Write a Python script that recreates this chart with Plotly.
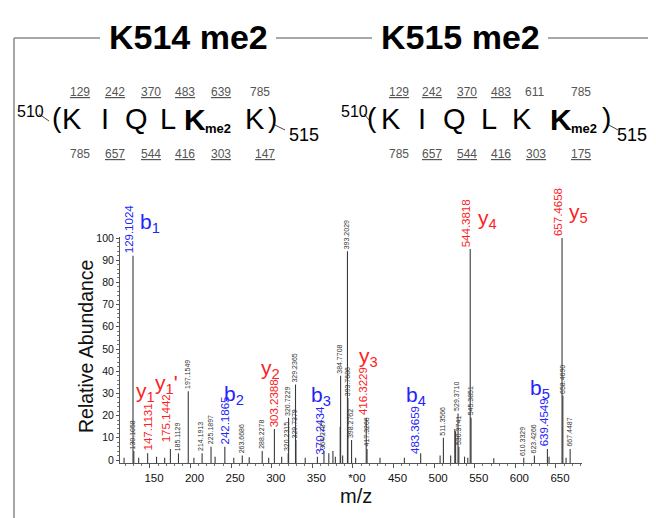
import plotly.graph_objects as go

# ---------------- data ----------------
peak_mz = [118.1, 129.1024, 130.1058, 136.1, 147.1131, 158.1, 168.1, 175.1442, 185.1129,
           197.1549, 204.1, 214.1913, 225.1897, 230.2, 242.1865, 253.2, 263.6686, 272.2,
           288.2278, 296.2, 303.2388, 312.2, 320.2315, 320.7229, 329.2365, 329.7379, 341.2,
           356.2, 364.2787, 370.2434, 375.3, 378.3, 384.2787, 384.7708, 387.3, 393.2029,
           393.7686, 398.2762, 403.3, 416.3229, 417.3266, 433.3, 463.3, 483.3659, 507.3,
           511.3566, 520.3, 525.4, 526.4, 529.3710, 530.3741, 537.4, 541.4, 544.3818,
           545.3851, 573.4, 610.3329, 623.4266, 639.4549, 641.45, 657.4658, 658.4690,
           662.4, 667.4487]
peak_int = [1.0, 92, 4, 1.0, 3, 1.5, 1.0, 5, 3,
            31, 1.0, 3, 6, 1.5, 6, 1.0, 2, 1.2,
            4, 1.0, 14, 1.5, 3, 19, 34, 9, 1.0,
            1.5, 4, 3, 4, 1.5, 15, 38, 2, 94,
            28, 9, 1.0, 19, 5, 1.0, 1.0, 3, 2,
            10, 2, 14, 13, 21, 6, 1.5, 1.0, 95,
            19, 0.8, 1, 2, 5, 1.5, 100, 29,
            1.0, 5]

# annotated fragment ions
ion_mz = [129.1024, 147.1131, 175.1442, 242.1865, 303.2388, 370.2434, 416.3229,
          483.3659, 544.3818, 639.4549, 657.4658]
ion_int = [92, 3, 5, 6, 14, 3, 19, 3, 95, 5, 100]
ion_name = ["b<sub>1</sub>", "y<sub>1</sub>", "y<sub>1</sub>'", "b<sub>2</sub>",
            "y<sub>2</sub>", "b<sub>3</sub>", "y<sub>3</sub>", "b<sub>4</sub>",
            "y<sub>4</sub>", "b<sub>5</sub>", "y<sub>5</sub>"]
ion_kind = ["b", "y", "y", "b", "y", "b", "y", "b", "y", "b", "y"]

# small peak labels
small_mz = [130.1058, 185.1129, 197.1549, 214.1913, 225.1897, 263.6686, 288.2278,
            320.2315, 320.7229, 329.2365, 329.7379, 364.2787, 384.7708, 393.2029,
            393.7686, 398.2762, 417.3266, 511.3566, 529.3710, 530.3741, 545.3851,
            610.3329, 623.4266, 658.4690, 667.4487]
small_int = [4, 3, 31, 3, 6, 2, 4, 3, 19, 34, 9, 4, 38, 94, 28, 9, 5, 10, 21, 6, 19,
             1, 2, 29, 5]

x_tick_vals = [150, 200, 250, 300, 350, 400, 450, 500, 550, 600, 650]
x_tick_text = ["150", "200", "250", "300", "350", "*00", "450", "500", "550", "600", "650"]
y_tick_vals = [0, 10, 20, 30, 40, 50, 60, 70, 80, 90, 100]

titles = ["K514 me2", "K515 me2"]
seq_left = ["K", "I", "Q", "L", "K", "K"]
seq_right = ["K", "I", "Q", "L", "K", "K"]
mod_left, mod_right = 4, 5
b_left = ["129", "242", "370", "483", "639", "785"]
b_left_u = [1, 1, 1, 1, 1, 0]
y_left = ["785", "657", "544", "416", "303", "147"]
y_left_u = [0, 1, 1, 1, 1, 1]
b_right = ["129", "242", "370", "483", "611", "785"]
b_right_u = [1, 1, 1, 1, 0, 0]
y_right = ["785", "657", "544", "416", "303", "175"]
y_right_u = [0, 1, 1, 1, 1, 1]

# ---------------- layout / styling ----------------
W, H = 656, 518
ML, MR, MT, MB = 112, 82, 229, 63
PW, PH = W - ML - MR, H - MT - MB
XR = [113.09, 682.05]
YR = [-1.35, 100.45]

def px(x):
    return (x - ML) / PW

def py(y):
    return (H - MB - y) / PH

BLUE = "rgb(35,35,250)"
RED = "rgb(250,35,35)"
GRAY = "#555555"
FONT = "Liberation Sans, Arial, sans-serif"

xs, ys = [], []
for m, i in zip(peak_mz, peak_int):
    xs += [m, m, None]
    ys += [YR[0], i, None]

fig = go.Figure()
fig.add_trace(go.Scatter(x=xs, y=ys, mode="lines",
                         line=dict(color="#3a3a3a", width=1.1),
                         hoverinfo="skip", showlegend=False))

ann = []
# m/z label offsets and ion-name offsets (pixels)
lab_dx = [-4, 0, -4, 0, 0, -9, -3, -5, -4, -4, -4]
lab_dy = [1, 2, 6, 1, 1, -2, 2, -2, 1, 2, 1]
nam_dx = [17, -2, -4, 9, -4, -8, 2, -5, 17, -7, 16]
nam_dy = [33, 61, 65, 52, 60, 57, 61, 57, 30, 60, 25]
for k, (m, i) in enumerate(zip(ion_mz, ion_int)):
    col = BLUE if ion_kind[k] == "b" else RED
    ann.append(dict(x=m, y=i, xref="x", yref="y", text=f"{m:.4f}", textangle=-90,
                    showarrow=False, xanchor="center", yanchor="bottom",
                    xshift=lab_dx[k], yshift=lab_dy[k], borderpad=0,
                    font=dict(family=FONT, size=11.5, color=col)))
    ann.append(dict(x=m, y=i, xref="x", yref="y", text=ion_name[k],
                    showarrow=False, xanchor="center", yanchor="middle",
                    xshift=nam_dx[k], yshift=nam_dy[k],
                    font=dict(family=FONT, size=21, color=col)))

for m, i in zip(small_mz, small_int):
    ann.append(dict(x=m, y=i, xref="x", yref="y", text=f"{m:.4f}", textangle=-90,
                    showarrow=False, xanchor="center", yanchor="bottom",
                    xshift=-1, yshift=1, borderpad=0,
                    font=dict(family=FONT, size=7, color="#333333")))

# axis titles
ann.append(dict(x=px(78), y=py(339), xref="paper", yref="paper", text="Relative Abundance",
                textangle=-90, showarrow=False, xanchor="center", yanchor="middle",
                font=dict(family=FONT, size=19.5, color="#111111")))
ann.append(dict(x=px(348), y=py(488), xref="paper", yref="paper", text="m/z",
                showarrow=False, xanchor="center", yanchor="middle", borderpad=0,
                font=dict(family=FONT, size=20, color="#111111")))

# panel titles
for t, cx in zip(titles, [180, 452]):
    ann.append(dict(x=px(cx), y=py(29), xref="paper", yref="paper", text=f"<b>{t}</b>",
                    showarrow=False, xanchor="center", yanchor="middle",
                    font=dict(family=FONT, size=34, color="#000000")))

def add_text(x, y, text, size, color="#000000", bold=False):
    ann.append(dict(x=px(x), y=py(y), xref="paper", yref="paper",
                    text=f"<b>{text}</b>" if bold else text, showarrow=False,
                    xanchor="center", yanchor="middle",
                    font=dict(family=FONT, size=size, color=color)))

def peptide(letters, mod, lx, mex, bnum, bu, bx, ynum, yu, yx, x510, xpo, xpc, x515):
    add_text(x510, 103, "510", 16)
    add_text(xpo, 110, "(", 28)
    for k, (L, x) in enumerate(zip(letters, lx)):
        add_text(x, 111, L, 30 if k == mod else 29, bold=(k == mod))
    add_text(mex, 121, "me2", 13, bold=True)
    add_text(xpc, 110, ")", 28)
    add_text(x515, 127, "515", 18)
    for t, u, x in zip(bnum, bu, bx):
        add_text(x, 84, f"<u>{t}</u>" if u else t, 12, GRAY)
    for t, u, x in zip(ynum, yu, yx):
        add_text(x, 146, f"<u>{t}</u>" if u else t, 12, GRAY)

peptide(seq_left, mod_left, [64, 97, 128, 160, 187, 247], 210,
        b_left, b_left_u, [72, 107, 143, 177, 213, 252],
        y_left, y_left_u, [72, 107, 143, 177, 213, 257], 22, 49, 264, 296)
peptide(seq_right, mod_right, [383, 414, 446, 481, 514, 553], 576,
        b_right, b_right_u, [391, 424, 459, 493, 526, 573],
        y_right, y_right_u, [391, 424, 459, 493, 528, 573], 346, 364, 598, 624)

shapes = []
LC = "#8a8a8a"
def seg(x0, y0, x1, y1, col=LC, w=1.5):
    shapes.append(dict(type="line", xref="paper", yref="paper",
                       x0=px(x0), y0=py(y0), x1=px(x1), y1=py(y1),
                       line=dict(color=col, width=w)))

seg(6, 30, 6, 518)
seg(6, 30, 92, 30)
seg(268, 30, 364, 30)
seg(540, 30, 656, 30)
# small bracket connectors
for (a, b, c, d) in [(31, 106, 41, 113), (267, 117, 277, 122),
                     (356, 106, 362, 113), (601, 117, 610, 122)]:
    seg(a, b, c, d, "#444444", 1)

fig.update_layout(
    width=W, height=H,
    margin=dict(l=ML, r=MR, t=MT, b=MB, autoexpand=False),
    paper_bgcolor="white", plot_bgcolor="white",
    showlegend=False,
    annotations=ann, shapes=shapes,
    xaxis=dict(range=XR, tickmode="array", tickvals=x_tick_vals, ticktext=x_tick_text,
               showgrid=False, zeroline=False, showline=True, linecolor="#555555",
               linewidth=1, ticks="outside", ticklen=4, tickcolor="#555555",
               ticklabelshift=4,
               tickfont=dict(family=FONT, size=11.5, color="#111111"),
               minor=dict(dtick=10, tick0=0, ticks="outside", ticklen=2,
                          tickcolor="#777777", showgrid=False)),
    yaxis=dict(range=YR, tickmode="array", tickvals=y_tick_vals,
               showgrid=False, zeroline=False, showline=True, linecolor="#555555",
               linewidth=1, ticks="outside", ticklen=3, tickcolor="#555555",
               tickfont=dict(family=FONT, size=10.5, color="#111111"),
               minor=dict(dtick=2, tick0=0, ticks="outside", ticklen=2,
                          tickcolor="#777777", showgrid=False)),
)

fig.write_html("out.html")
